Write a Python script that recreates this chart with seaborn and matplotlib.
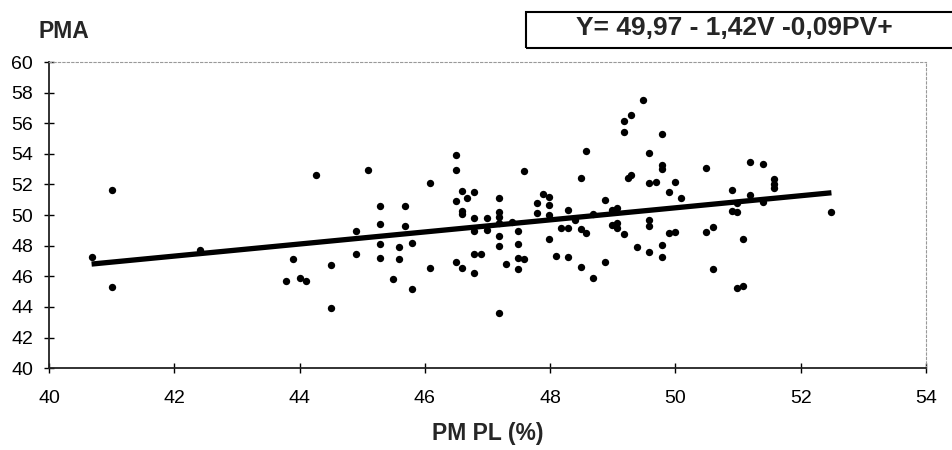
import matplotlib
matplotlib.use("Agg")
import matplotlib.pyplot as plt
import seaborn as sns
import pandas as pd
from matplotlib.patches import Rectangle

# PM PL (%) values
pm_pl = [
    40.68, 41.00, 41.00, 42.41, 44.27, 43.89, 43.79, 44.00, 44.10, 44.50,
    44.50, 45.10, 44.90, 44.90, 45.28, 45.28, 45.28, 45.28, 45.49, 45.59,
    45.59, 45.68, 45.68, 45.79, 45.79, 46.08, 46.08, 46.49, 46.49, 46.49,
    46.49, 46.59, 46.59, 46.59, 46.59, 46.68, 46.78, 46.78, 46.78, 46.78,
    46.89, 46.78, 46.99, 46.99, 47.18, 47.18, 47.18, 47.18, 47.18, 47.18,
    47.18, 47.29, 47.39, 47.48, 47.48, 47.48, 47.59, 47.48, 47.59, 47.79,
    47.79, 47.89, 47.98, 47.98, 47.98, 47.98, 48.09, 48.18, 48.29, 48.29,
    48.29, 48.39, 48.49, 48.49, 48.58, 48.58, 48.49, 48.69, 48.69, 48.88,
    48.88, 49.07, 49.07, 49.07, 49.18, 49.18, 49.18, 49.25, 49.49, 49.29,
    49.78, 49.58, 49.78, 49.78, 49.29, 49.58, 49.69, 49.99, 49.89, 50.09,
    48.99, 48.99, 49.38, 49.58, 49.58, 49.58, 49.78, 49.78, 49.89, 49.99,
    50.49, 50.49, 50.60, 50.60, 50.90, 50.90, 50.99, 50.99, 51.08, 50.99,
    51.08, 51.19, 51.19, 51.39, 51.39, 51.58, 51.58, 51.58, 52.48,
]
# PMA values
pma = [
    47.27, 51.63, 45.31, 47.71, 52.61, 47.10, 45.71, 45.92, 45.71, 46.73,
    43.90, 52.94, 48.95, 47.49, 50.61, 49.39, 48.12, 47.19, 45.82, 47.93,
    47.10, 50.61, 49.28, 48.19, 45.18, 52.11, 46.52, 53.90, 52.94, 50.89,
    46.95, 51.59, 50.28, 50.07, 46.52, 51.13, 51.48, 49.80, 48.97, 47.45,
    47.45, 46.19, 49.80, 49.02, 51.15, 50.22, 49.89, 49.46, 48.65, 47.99,
    43.58, 46.80, 49.52, 48.97, 48.10, 47.19, 47.12, 46.45, 52.88, 50.81,
    50.15, 51.35, 51.20, 50.69, 49.99, 48.41, 47.32, 49.13, 50.33, 49.13,
    47.27, 49.67, 52.40, 49.08, 54.18, 48.84, 46.58, 45.86, 50.10, 50.98,
    46.91, 50.48, 49.46, 49.13, 48.76, 56.14, 55.44, 52.40, 57.52, 56.57,
    55.29, 54.03, 53.27, 52.99, 52.61, 52.11, 52.16, 52.16, 51.48, 51.13,
    50.33, 49.35, 47.93, 49.67, 49.30, 47.60, 48.04, 47.27, 48.84, 48.91,
    53.05, 48.91, 49.24, 46.45, 51.63, 50.28, 50.22, 50.76, 48.41, 45.21,
    45.36, 53.48, 51.31, 53.33, 50.87, 52.33, 52.03, 51.74, 50.18,
]

# trend line ends
fit_x = [40.68, 52.49]
fit_y = [46.80, 51.46]

x_ticks = [40, 42, 44, 46, 48, 50, 52, 54]
y_ticks = [40, 42, 44, 46, 48, 50, 52, 54, 56, 58, 60]

equation = "Y= 49,97 - 1,42V -0,09PV+"

sns.set_theme(style="white")
plt.rcParams["font.family"] = ["Liberation Sans", "DejaVu Sans"]

df = pd.DataFrame({"x": pm_pl, "y": pma})

fig = plt.figure(figsize=(9.53, 4.5), dpi=100)
ax = fig.add_axes([0.0514, 0.182, 0.9203, 0.680])

sns.scatterplot(data=df, x="x", y="y", ax=ax, color="black", s=28,
                edgecolor="black", linewidth=0, zorder=3)
sns.lineplot(x=fit_x, y=fit_y, ax=ax, color="black", linewidth=3.8,
             zorder=2, solid_capstyle="butt")

ax.set_xlim(40, 54)
ax.set_ylim(40, 60)
ax.set_xticks(x_ticks)
ax.set_yticks(y_ticks)
ax.set_xticklabels([str(t) for t in x_ticks])
ax.set_yticklabels([str(t) for t in y_ticks])
ax.tick_params(axis="both", direction="inout", length=7, width=1,
               color="black", labelsize=14, labelcolor="black")
ax.tick_params(axis="x", pad=12, bottom=True)
ax.tick_params(axis="y", pad=8, left=True)

for side in ("left", "bottom"):
    ax.spines[side].set_color("#222222")
    ax.spines[side].set_linewidth(1.3)
for side in ("top", "right"):
    ax.spines[side].set_color("#999999")
    ax.spines[side].set_linewidth(0.8)
    ax.spines[side].set_linestyle((0, (2, 2)))

ax.set_xlabel("PM PL (%)", fontsize=16.5, fontweight="bold", labelpad=11)
ax.set_ylabel("")

fig.text(0.067, 0.93, "PMA", fontsize=16.5, fontweight="bold",
         ha="center", va="center")

fig.patches.append(Rectangle((0.552, 0.893), 0.46, 0.08,
                             transform=fig.transFigure, fill=False,
                             edgecolor="black", linewidth=1.5))
fig.text(0.771, 0.938, equation, fontsize=19, fontweight="bold",
         ha="center", va="center")

fig.savefig("out.png", dpi=100, facecolor="white")
